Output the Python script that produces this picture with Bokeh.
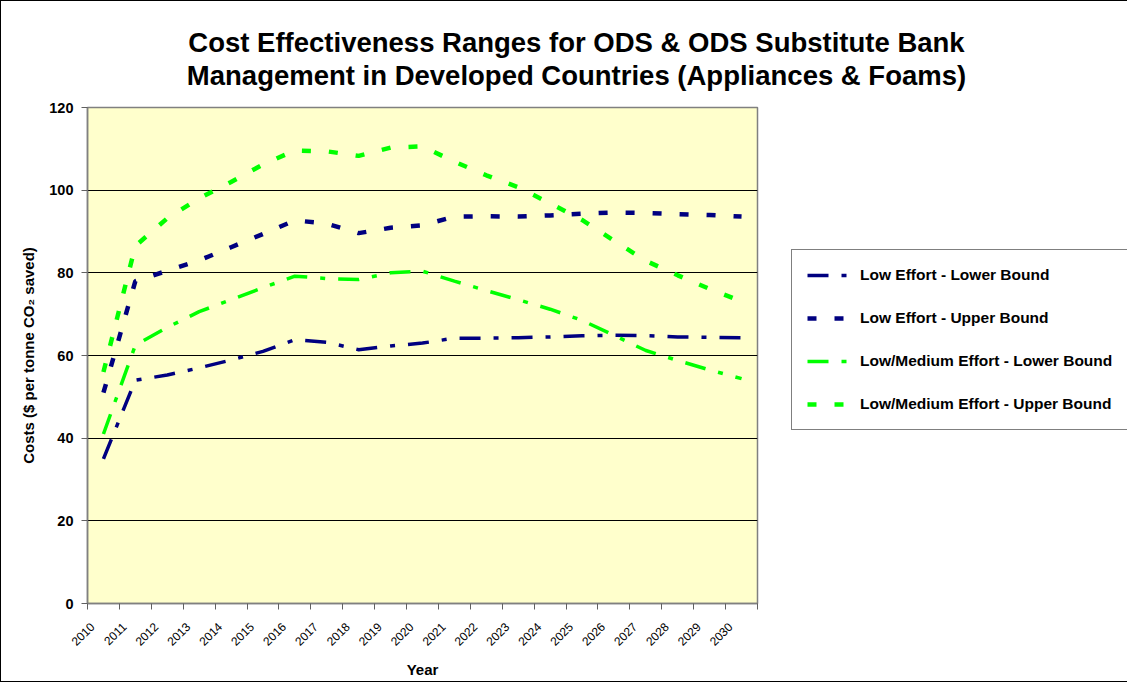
from bokeh.plotting import figure
from bokeh.layouts import column, row
from bokeh.models import Range1d, FixedTicker, Legend, LegendItem, Label
from bokeh.embed import file_html
from bokeh.resources import INLINE

# ---- data ----
years = list(range(2010, 2031))
low_lower = [35, 54, 55.3, 57, 58.9, 61, 63.8, 63.2, 61.4, 62.3, 63,
             64.2, 64.2, 64.3, 64.5, 64.8, 64.9, 64.8, 64.5, 64.4, 64.3]
low_upper = [51, 78, 80.5, 83, 86.2, 89.4, 92.7, 91.9, 89.6, 90.9, 91.5,
             93.6, 93.7, 93.6, 93.9, 94.3, 94.6, 94.5, 94.2, 94.0, 93.6]
mid_lower = [41, 62.5, 66.8, 70.6, 73.5, 76.4, 79.2, 78.6, 78.4, 80, 80.4,
             78, 75.7, 73.5, 71.2, 68.5, 64.9, 61.2, 58.8, 56.5, 54.4]
mid_upper = [56, 86.5, 93.2, 98, 102, 106.2, 109.6, 109.4, 108.3, 110.3, 110.6,
             106.9, 103.6, 100.7, 96.8, 92.8, 87.8, 82.9, 79.4, 76.1, 73.1]
series_names = ["Low Effort - Lower Bound", "Low Effort - Upper Bound",
                "Low/Medium Effort - Lower Bound", "Low/Medium Effort - Upper Bound"]
y_ticks = [0, 20, 40, 60, 80, 100, 120]
title_lines = ["Cost Effectiveness Ranges for ODS & ODS Substitute Bank",
               "Management in Developed Countries (Appliances & Foams)"]

FONT = "Liberation Sans"
NAVY = "#000080"
LIME = "#00FF00"

TOTAL_W = 1126
TITLE_H = 96
BODY_H = 584
MAIN_W = 769
LEG_W = TOTAL_W - MAIN_W

# ---------------- title strip ----------------
tf = figure(width=TOTAL_W, height=TITLE_H, output_backend="svg", toolbar_location=None,
            title=None, x_axis_location=None, y_axis_location=None,
            x_range=Range1d(0, TOTAL_W), y_range=Range1d(TITLE_H, 0), min_border=0)
tf.outline_line_color = None
tf.grid.visible = False
tf.background_fill_color = "white"
tf.border_fill_color = "white"
for line, base in zip(title_lines, [41, 74]):
    tf.add_layout(Label(x=575, y=base, text=line, text_align="center",
                        text_baseline="alphabetic", text_font=FONT,
                        text_font_style="bold", text_font_size="27.5px",
                        text_color="black"))

# ---------------- main chart ----------------
x0, x1 = years[0] - 0.5, years[-1] + 0.5
p = figure(width=MAIN_W, height=BODY_H, output_backend="svg", toolbar_location=None,
           title=None, x_range=Range1d(x0, x1), y_range=Range1d(0, 120),
           min_border_left=86, min_border_right=MAIN_W - 756,
           min_border_top=10, min_border_bottom=BODY_H - 506)
p.background_fill_color = "#FFFFCC"
p.border_fill_color = "white"
p.outline_line_color = "#808080"
p.outline_line_width = 1.5

p.xgrid.visible = False
p.ygrid.ticker = FixedTicker(ticks=y_ticks[1:-1])
p.ygrid.grid_line_color = "black"
p.ygrid.grid_line_width = 1

ya = p.yaxis[0]
ya.ticker = FixedTicker(ticks=y_ticks)
ya.axis_line_color = "#808080"
ya.axis_line_width = 1.5
ya.major_tick_line_color = "#606060"
ya.major_tick_out = 6
ya.major_tick_in = 0
ya.minor_tick_line_color = None
ya.major_label_standoff = 8
ya.major_label_text_font = FONT
ya.major_label_text_font_style = "bold"
ya.major_label_text_font_size = "14.5px"
ya.major_label_text_color = "black"
ya.axis_label = "Costs ($ per tonne CO\u2082 saved)"
ya.axis_label_text_font = FONT
ya.axis_label_text_font_style = "bold"
ya.axis_label_text_font_size = "15px"
ya.axis_label_text_color = "black"
ya.axis_label_standoff = 9

label_pos = [y - 0.35 for y in years]
xa = p.xaxis[0]
xa.ticker = FixedTicker(ticks=label_pos, minor_ticks=[y - 0.5 for y in years] + [years[-1] + 0.5])
xa.axis_line_color = "#808080"
xa.axis_line_width = 1.5
xa.major_tick_out = 0
xa.major_tick_in = 0
xa.major_tick_line_color = None
xa.minor_tick_out = 6
xa.minor_tick_in = 0
xa.minor_tick_line_color = "#606060"
xa.major_label_overrides = {lp: str(y) for lp, y in zip(label_pos, years)}
xa.major_label_orientation = 0.785398
xa.major_label_standoff = 15
xa.major_label_text_font = FONT
xa.major_label_text_font_size = "12px"
xa.major_label_text_color = "black"
xa.axis_label = "Year"
xa.axis_label_text_font = FONT
xa.axis_label_text_font_style = "bold"
xa.axis_label_text_font_size = "15px"
xa.axis_label_text_color = "black"
xa.axis_label_standoff = 8

series = [low_lower, low_upper, mid_lower, mid_upper]
styles = [
    (NAVY, 3.5, "21 13 5 13"),
    (NAVY, 4.5, "9 18"),
    (LIME, 3.5, "21 13 5 13"),
    (LIME, 4.5, "9 18"),
]
for vals, (c, w, d) in zip(series, styles):
    p.line(years, vals, line_color=c, line_width=w, line_dash=d)

# ---------------- legend panel ----------------
# same series drawn again (outside this panel's visible range) so the legend has real glyphs
lf = figure(width=LEG_W, height=BODY_H, output_backend="svg", toolbar_location=None,
            title=None, x_axis_location=None, y_axis_location=None,
            x_range=Range1d(0, 1), y_range=Range1d(0, 1), min_border=0)
lf.outline_line_color = None
lf.grid.visible = False
lf.background_fill_color = "white"
lf.border_fill_color = "white"
proxies = [lf.line(years, vals, line_color=c, line_width=w, line_dash=d)
           for vals, (c, w, d) in zip(series, styles)]
legend = Legend(items=[LegendItem(label=n, renderers=[r]) for n, r in zip(series_names, proxies)],
                location=(21, 173), padding=15, spacing=23, margin=0,
                glyph_width=40, glyph_height=20, label_height=20, label_standoff=13,
                label_text_font=FONT, label_text_font_style="bold",
                label_text_font_size="15.5px", label_text_color="black",
                border_line_color="black", border_line_width=1,
                background_fill_color="white", background_fill_alpha=1)
lf.add_layout(legend)

layout = column(tf, row(p, lf))
layout.styles = {"border-left": "1px solid #000000", "border-top": "1px solid #000000",
                 "border-bottom": "1px solid #000000"}

open("out.html", "w").write(file_html(layout, INLINE))
